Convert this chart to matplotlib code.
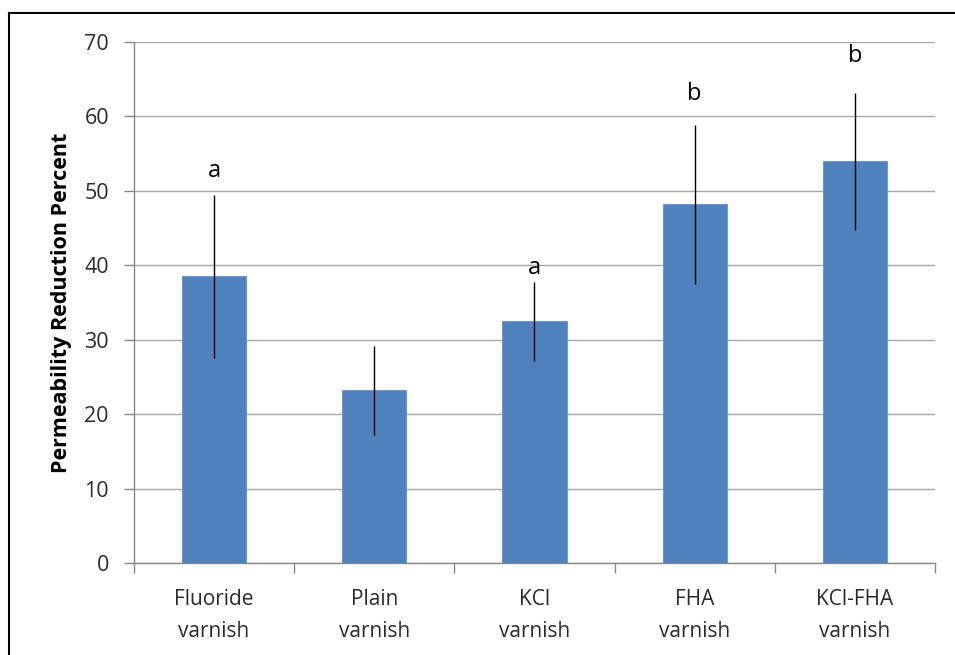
import matplotlib
matplotlib.use("Agg")
import matplotlib.pyplot as plt
from matplotlib.lines import Line2D
import numpy as np

categories = ["Fluoride\nvarnish", "Plain\nvarnish", "KCl\nvarnish", "FHA\nvarnish", "KCl-FHA\nvarnish"]
means = [38.5, 23.2, 32.5, 48.2, 54.0]
errors = [11.0, 6.0, 5.3, 10.7, 9.2]
letters = ["a", "", "a", "b", "b"]
yticks = [0, 10, 20, 30, 40, 50, 60, 70]

plt.rcParams["font.family"] = ["Open Sans", "DejaVu Sans"]

fig = plt.figure(figsize=(9.55, 6.55), dpi=100)
ax = fig.add_axes([0.1403, 0.1405, 0.979 - 0.1403, 0.9359 - 0.1405])

x = np.arange(len(categories))
ax.bar(x, means, width=0.4, color="#4f81bd", edgecolor="#6f97cc", linewidth=0.8, zorder=3)
ax.errorbar(x, means, yerr=errors, fmt="none", ecolor="black", elinewidth=1.0,
            capsize=0, zorder=4)

# significance letters sit a little above each error bar (offsets in points)
letter_offsets = [17, 0, 10, 22, 26]
for xi, m, e, lab, off in zip(x, means, errors, letters, letter_offsets):
    if lab:
        ax.annotate(lab, (xi, m + e), xytext=(0, off), textcoords="offset points",
                    ha="center", va="center", fontsize=17, color="black")

ax.set_xlim(-0.5, len(categories) - 0.5)
ax.set_ylim(0, 70)
ax.set_yticks(yticks)
ax.set_yticklabels([str(t) for t in yticks], fontsize=15.5, color="#2b2b2b")
ax.yaxis.grid(True, color="#a6a6a6", linewidth=1.0, zorder=0)
ax.set_axisbelow(True)

ax.set_xticks(x)
ax.set_xticklabels(categories, fontsize=15, color="#2b2b2b", linespacing=1.65)
ax.tick_params(axis="x", length=0, pad=19)
ax.set_xticks(np.arange(len(categories) + 1) - 0.5, minor=True)
ax.tick_params(axis="x", which="minor", length=7, color="#868686", width=1)
ax.tick_params(axis="y", length=7, color="#868686", width=1, pad=11)

for side in ["top", "right"]:
    ax.spines[side].set_visible(False)
for side in ["left", "bottom"]:
    ax.spines[side].set_color("#868686")
    ax.spines[side].set_linewidth(1.0)

ax.set_ylabel("Permeability Reduction Percent", fontsize=15.5, fontweight="bold", labelpad=9)

# outer frame
fig.add_artist(Line2D([8.5 / 955, 8.5 / 955], [0, 1 - 12.5 / 655], color="black", lw=1.5,
                      transform=fig.transFigure))
fig.add_artist(Line2D([8.5 / 955, 1], [1 - 12.5 / 655, 1 - 12.5 / 655], color="black", lw=1.5,
                      transform=fig.transFigure))

fig.savefig("out.png", dpi=100)
